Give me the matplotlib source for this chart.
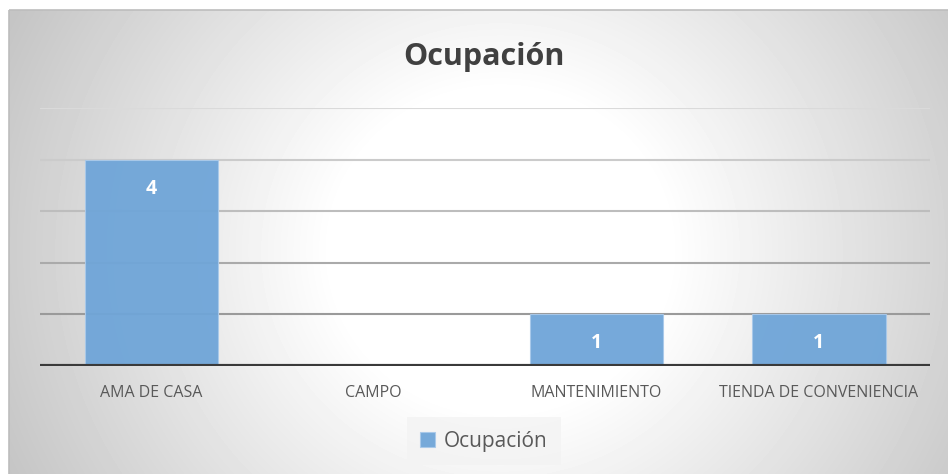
import numpy as np
import matplotlib
matplotlib.use("Agg")
import matplotlib.pyplot as plt
from matplotlib.patches import Rectangle

# ── Data ──────────────────────────────────────────────
categories = ["AMA DE CASA", "CAMPO", "MANTENIMIENTO", "TIENDA DE CONVENIENCIA"]
values     = [4, 0, 1, 1]
series     = "Ocupación"
y_ticks    = [1, 2, 3, 4, 5]

# ── Style ─────────────────────────────────────────────
BAR_COLOR  = "#6fa5d8"
BAR_EDGE   = "#a9c9ea"
GRID_COLS  = ["#9a9a9a", "#aaaaaa", "#bdbdbd", "#cbcbcb", "#dadada"]
plt.rcParams["font.family"] = ["Open Sans", "DejaVu Sans"]

W, H, DPI = 948, 474, 100
fig = plt.figure(figsize=(W / DPI, H / DPI), dpi=DPI)

# background: grey radial fade, white near the middle
bg = fig.add_axes([0, 0, 1, 1], zorder=-10)
yy, xx = np.mgrid[0:H, 0:W]
r = np.hypot((xx - 500) * 0.95, yy - 250)
shade = 1 - 0.23 * np.clip((r - 160) / 360, 0, 1)
shade[:10, :] = 1.0
shade[:, :9] = 1.0
bg.imshow(shade, cmap="gray", vmin=0, vmax=1, extent=[0, W, H, 0],
          aspect="auto", interpolation="bilinear")
bg.add_patch(Rectangle((9, 10), W, H, fill=False, edgecolor="#bdbdbd", lw=1.2))
bg.set_xlim(0, W)
bg.set_ylim(H, 0)
bg.axis("off")

# plot area
ax = fig.add_axes([40 / W, (H - 366) / H, 890 / W, 258 / H])
ax.patch.set_alpha(0)
x = np.arange(len(categories))

for t, c in zip(y_ticks, GRID_COLS):
    ax.axhline(t, color=c, lw=1.5, zorder=1)

bars = ax.bar(x, values, width=0.6, color=BAR_COLOR, edgecolor=BAR_EDGE,
              linewidth=0.8, alpha=0.95, zorder=2)

for xi, v in zip(x, values):
    if v:
        ax.annotate(str(v), (xi, v), xytext=(0, -29), textcoords="offset pixels",
                    ha="center", va="center", color="white",
                    fontsize=14, fontweight="bold", zorder=4)

ax.axhline(0, color="#3a3a3a", lw=3.0, zorder=3)

ax.set_xlim(-0.5, len(categories) - 0.5)
ax.set_ylim(0, 5)
ax.set_yticks([])
ax.set_xticks(x)
ax.set_xticklabels(categories, fontsize=11.5, color="#595959")
ax.tick_params(axis="x", length=0, pad=14)
for s in ax.spines.values():
    s.set_visible(False)

fig.text(484 / W, 1 - 57 / H, series, ha="center", va="center",
         fontsize=22, fontweight="bold", color="#404040")

leg = fig.legend([bars], [series], loc="center",
                 bbox_to_anchor=(484 / W, 1 - 441 / H),
                 fontsize=15, frameon=True, fancybox=False,
                 handlelength=0.7, handleheight=0.7, handletextpad=0.45,
                 borderpad=0.65, borderaxespad=0)
for t in leg.get_texts():
    t.set_color("#595959")
leg.get_frame().set_facecolor("#f3f3f3")
leg.get_frame().set_edgecolor("none")

fig.savefig("out.png", dpi=DPI)
